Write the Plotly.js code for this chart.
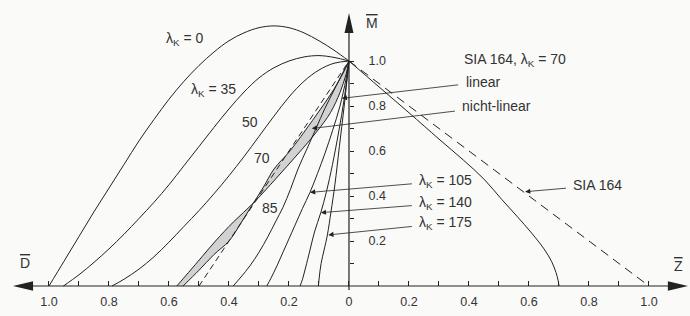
<!DOCTYPE html>
<html>
<head>
<meta charset="utf-8">
<script src="https://cdn.plot.ly/plotly-3.0.1.min.js"></script>
<style>html,body{margin:0;padding:0;background:#fafaf9;}#chart{width:690px;height:316px;}</style>
</head>
<body>
<div id="chart"></div>
<script>
// ---- data (D side values are compression ratios, drawn to the left) ----
const lam0_D  = [1.0, 0.95, 0.9, 0.85, 0.8, 0.75, 0.7, 0.65, 0.6, 0.55, 0.5, 0.45, 0.4, 0.35, 0.3, 0.25, 0.2, 0.15, 0.1, 0.05, 0.0];
const lam0_M  = [0.0, 0.11, 0.22, 0.33, 0.435, 0.54, 0.645, 0.74, 0.83, 0.91, 0.98, 1.04, 1.09, 1.125, 1.148, 1.156, 1.148, 1.125, 1.09, 1.048, 1.0];
const lam35_D = [0.952, 0.9, 0.85, 0.8, 0.75, 0.7, 0.65, 0.6, 0.55, 0.5, 0.45, 0.4, 0.35, 0.3, 0.25, 0.2, 0.15, 0.1, 0.05, 0.0];
const lam35_M = [0.0, 0.05, 0.105, 0.165, 0.23, 0.30, 0.372, 0.45, 0.535, 0.62, 0.705, 0.787, 0.862, 0.925, 0.97, 1.0, 1.018, 1.024, 1.016, 1.0];
const lam50_D = [0.79, 0.75, 0.7, 0.65, 0.6, 0.55, 0.5, 0.45, 0.4, 0.35, 0.3, 0.25, 0.2, 0.15, 0.1, 0.05, 0.0];
const lam50_M = [0.0, 0.03, 0.075, 0.13, 0.195, 0.265, 0.335, 0.41, 0.49, 0.575, 0.665, 0.755, 0.84, 0.91, 0.96, 0.99, 1.0];
const lam70lin_D = [0.574, 0.535, 0.49, 0.445, 0.385, 0.319, 0.262, 0.208, 0.155, 0.105, 0.062, 0.03, 0.01, 0.0];
const lam70lin_M = [0.0, 0.06, 0.13, 0.20, 0.285, 0.368, 0.45, 0.53, 0.61, 0.69, 0.77, 0.86, 0.94, 1.0];
const lam70nl_D  = [0.553, 0.50, 0.45, 0.40, 0.36, 0.319, 0.285, 0.25, 0.20, 0.16, 0.122, 0.085, 0.05, 0.02, 0.0];
const lam70nl_M  = [0.0, 0.07, 0.14, 0.20, 0.28, 0.368, 0.44, 0.52, 0.595, 0.665, 0.735, 0.805, 0.875, 0.945, 1.0];
const sia70_D = [0.5, 0.0];
const sia70_M = [0.0, 1.0];
const lam85_D = [0.386, 0.36, 0.33, 0.30, 0.27, 0.245, 0.22, 0.195, 0.17, 0.14, 0.11, 0.08, 0.05, 0.02, 0.0];
const lam85_M = [0.0, 0.04, 0.09, 0.15, 0.22, 0.285, 0.35, 0.43, 0.52, 0.61, 0.70, 0.79, 0.87, 0.95, 1.0];
const lam105_D = [0.274, 0.26, 0.24, 0.22, 0.20, 0.18, 0.155, 0.13, 0.105, 0.08, 0.055, 0.03, 0.01, 0.0];
const lam105_M = [0.0, 0.035, 0.09, 0.15, 0.21, 0.27, 0.345, 0.416, 0.50, 0.59, 0.69, 0.80, 0.92, 1.0];
const lam140_D = [0.163, 0.155, 0.145, 0.13, 0.115, 0.094, 0.075, 0.055, 0.035, 0.015, 0.0];
const lam140_M = [0.0, 0.03, 0.08, 0.16, 0.24, 0.326, 0.42, 0.54, 0.68, 0.84, 1.0];
const lam175_D = [0.102, 0.099, 0.093, 0.083, 0.072, 0.06, 0.047, 0.032, 0.016, 0.0];
const lam175_M = [0.0, 0.04, 0.10, 0.16, 0.227, 0.33, 0.45, 0.62, 0.80, 1.0];
// Z side (tension, drawn to the right)
const tens_Z = [0.0, 0.1, 0.2, 0.3, 0.381, 0.45, 0.509, 0.56, 0.609, 0.65, 0.675, 0.69, 0.697, 0.70];
const tens_M = [1.0, 0.885, 0.77, 0.653, 0.56, 0.475, 0.385, 0.31, 0.235, 0.165, 0.11, 0.06, 0.025, 0.0];
const sia_Z = [0.0, 1.0];
const sia_M = [1.0, 0.0];
// tick labels
const xTickVals = [-1.0, -0.8, -0.6, -0.4, -0.2, 0, 0.2, 0.4, 0.6, 0.8, 1.0];
const xTickText = ['1.0', '0.8', '0.6', '0.4', '0.2', '0', '0.2', '0.4', '0.6', '0.8', '1.0'];
const xMinorVals = [-0.9, -0.7, -0.5, -0.3, -0.1, 0.1, 0.3, 0.5, 0.7, 0.9];
const yTickVals = [0.2, 0.4, 0.6, 0.8, 1.0];
const yTickText = ['0.2', '0.4', '0.6', '0.8', '1.0'];
const yMinorVals = [0.1, 0.3, 0.5, 0.7, 0.9];

const INK = '#222';
const neg = a => a.map(v => -v);
function curve(D, M) {
  return {x: neg(D), y: M, type:'scatter', mode:'lines', hoverinfo:'skip',
          line:{color:INK, width:1, shape:'spline', smoothing:1}};
}
const band = {
  x: neg(lam70lin_D).concat(neg(lam70nl_D).reverse()),
  y: lam70lin_M.concat(lam70nl_M.slice().reverse()),
  type:'scatter', mode:'none', fill:'toself', fillcolor:'#d2d2d2', hoverinfo:'skip',
  line:{shape:'spline', smoothing:1}
};
const traces = [
  band,
  curve(lam0_D, lam0_M), curve(lam35_D, lam35_M), curve(lam50_D, lam50_M),
  curve(lam70lin_D, lam70lin_M), curve(lam70nl_D, lam70nl_M),
  {x: neg(sia70_D), y: sia70_M, type:'scatter', mode:'lines', hoverinfo:'skip', line:{color:INK, width:1, dash:'6px,4px'}},
  curve(lam85_D, lam85_M), curve(lam105_D, lam105_M), curve(lam140_D, lam140_M), curve(lam175_D, lam175_M),
  {x: tens_Z, y: tens_M, type:'scatter', mode:'lines', hoverinfo:'skip', line:{color:INK, width:1, shape:'spline', smoothing:1}},
  {x: sia_Z, y: sia_M, type:'scatter', mode:'lines', hoverinfo:'skip', line:{color:INK, width:1, dash:'9px,6px'}}
];

const TICKF = {family:'Liberation Sans, Arial, sans-serif', size:12.5, color:'#333'};
const TF = {family:'Liberation Sans, Arial, sans-serif', size:14, color:'#333'};
function label(x, y, text, anchor) {
  return {x:x, y:y, xref:'x', yref:'y', text:text, showarrow:false, font:TF, xanchor:anchor||'center', yanchor:'middle'};
}
// labelled pointer: text centred at (tx,ty), arrow to the curve point (hx,hy)
function pointer(text, tx, ty, hx, hy) {
  return {x:hx, y:hy, ax:tx, ay:ty, xref:'x', yref:'y', axref:'x', ayref:'y', text:text, font:TF,
          showarrow:true, arrowhead:2, arrowsize:1.3, arrowwidth:0.8, arrowcolor:INK, startstandoff:6};
}
const annotations = [
  label(-0.547, 1.098, 'λ<sub>K</sub> = 0'),
  label(-0.453, 0.871, 'λ<sub>K</sub> = 35'),
  label(-0.33, 0.729, '50'),
  label(-0.29, 0.569, '70'),
  label(-0.263, 0.347, '85'),
  label(0.377, 1.004, 'SIA 164, λ<sub>K</sub> = 70', 'left'),
  label(-1.08, 0.102, '<span style="text-decoration:overline">D</span>'),
  label(1.097, 0.089, '<span style="text-decoration:overline">Z</span>'),
  label(0.077, 1.169, '<span style="text-decoration:overline">M</span>'),
  pointer('linear', 0.447, 0.907, -0.024, 0.834),
  pointer('nicht-linear', 0.493, 0.80, -0.124, 0.70),
  pointer('λ<sub>K</sub> = 105', 0.323, 0.467, -0.13, 0.416),
  pointer('λ<sub>K</sub> = 140', 0.323, 0.369, -0.094, 0.326),
  pointer('λ<sub>K</sub> = 175', 0.323, 0.28, -0.069, 0.227),
  pointer('SIA 164', 0.83, 0.447, 0.587, 0.419)
];

const shapes = [
  {type:'line', xref:'x', yref:'y', x0:-1.10, y0:0, x1:1.11, y1:0, line:{color:INK, width:1.2}},
  {type:'line', xref:'x', yref:'y', x0:0, y0:-0.018, x1:0, y1:1.19, line:{color:INK, width:1.2}},
  {type:'path', xref:'x', yref:'y', path:'M -1.12,0 L -1.053,0.021 L -1.053,-0.021 Z', fillcolor:INK, line:{width:0}},
  {type:'path', xref:'x', yref:'y', path:'M 1.13,0 L 1.063,0.021 L 1.063,-0.021 Z', fillcolor:INK, line:{width:0}},
  {type:'path', xref:'x', yref:'y', path:'M 0,1.213 L -0.015,1.124 L 0.015,1.124 Z', fillcolor:INK, line:{width:0}}
];

const layout = {
  width:690, height:316, margin:{l:0, r:0, t:0, b:0},
  paper_bgcolor:'#fafaf9', plot_bgcolor:'#fafaf9', showlegend:false,
  font: TF,
  xaxis:{range:[-1.1633, 1.1367], showgrid:false, zeroline:false, showline:false,
         anchor:'free', position:0.0949, side:'bottom', tickmode:'array',
         tickvals:xTickVals, ticktext:xTickText, ticks:'inside', ticklen:5, tickwidth:1, tickcolor:INK,
         minor:{tickmode:'array', tickvals:xMinorVals, ticks:'inside', ticklen:5, tickwidth:1, tickcolor:INK, showgrid:false},
         ticklabelstandoff:6, tickfont:TICKF, fixedrange:true},
  yaxis:{range:[-0.1333, 1.2711], showgrid:false, zeroline:false, showline:false,
         anchor:'free', position:0.5058, side:'right', tickmode:'array',
         tickvals:yTickVals, ticktext:yTickText, ticks:'outside', ticklen:4, tickwidth:1, tickcolor:INK,
         minor:{tickmode:'array', tickvals:yMinorVals, ticks:'outside', ticklen:4, tickwidth:1, tickcolor:INK, showgrid:false},
         ticklabelstandoff:12, tickfont:TICKF, fixedrange:true},
  annotations: annotations,
  shapes: shapes
};
Plotly.newPlot('chart', traces, layout, {displayModeBar:false, staticPlot:true});
</script>
</body>
</html>
